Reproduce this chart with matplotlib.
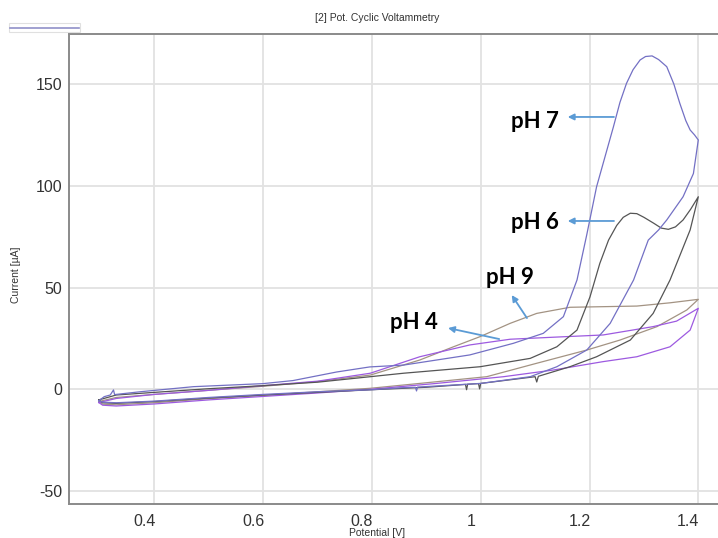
import numpy as np
import matplotlib
matplotlib.use("Agg")
import matplotlib.pyplot as plt
from matplotlib.transforms import ScaledTranslation
from matplotlib.patches import Rectangle
from matplotlib.lines import Line2D

plt.rcParams["axes.unicode_minus"] = False

# pH 7 (forward scan then reverse)
ph7_v = [0.298, 0.308, 0.319, 0.325, 0.327, 0.330, 0.374, 0.472, 0.600, 0.655, 0.735, 0.796, 0.858,
         0.980, 1.060, 1.115, 1.152, 1.177, 1.195, 1.213, 1.244, 1.256, 1.268, 1.280, 1.293, 1.303,
         1.315, 1.327, 1.342, 1.355, 1.366, 1.377, 1.385, 1.393, 1.400,
         1.391, 1.372, 1.342, 1.327, 1.308, 1.281, 1.238, 1.195, 1.140, 1.091, 1.000, 0.884, 0.882,
         0.880, 0.857, 0.800, 0.700, 0.600, 0.500, 0.400, 0.330, 0.305, 0.298]
ph7_i = [-5.6, -3.6, -2.8, -0.3, -2.6, -2.5, -1.2, 1.3, 2.8, 4.3, 8.5, 11.0, 11.9,
         16.9, 22.6, 27.5, 35.7, 53.7, 76.0, 99.5, 129.0, 141.0, 150.3, 157.0, 161.8, 163.5,
         163.8, 162.0, 158.5, 150.0, 140.5, 132.0, 127.4, 125.0, 122.5,
         106.0, 94.6, 83.2, 78.3, 73.3, 53.7, 32.4, 19.3, 11.1, 6.2, 2.9, 1.1, -0.8,
         1.0, 0.8, -0.2, -1.2, -2.5, -4.0, -5.8, -6.6, -6.3, -5.6]

# pH 6
ph6_v = [0.298, 0.330, 0.400, 0.500, 0.600, 0.700, 0.797, 0.858, 0.999, 1.091, 1.140, 1.177,
         1.201, 1.219, 1.235, 1.250, 1.262, 1.275, 1.287, 1.300, 1.318, 1.332, 1.345, 1.358,
         1.372, 1.386, 1.400,
         1.385, 1.348, 1.317, 1.275, 1.213, 1.164, 1.106, 1.103, 1.100, 1.000, 0.998, 0.996,
         0.976, 0.974, 0.972, 0.900, 0.800, 0.700, 0.600, 0.500, 0.400, 0.330, 0.305, 0.298]
ph6_i = [-5.2, -2.8, -1.5, 0.3, 1.8, 3.5, 6.2, 7.9, 11.1, 15.2, 20.9, 29.1,
         45.5, 61.9, 73.3, 80.5, 84.5, 86.5, 86.3, 84.5, 81.6, 79.2, 78.6, 79.8,
         83.2, 88.5, 94.6,
         78.3, 53.7, 37.3, 24.2, 16.0, 11.1, 6.4, 3.6, 6.2, 2.9, 0.2, 2.8,
         2.5, -0.2, 2.4, 1.0, -0.2, -1.5, -2.8, -4.3, -6.0, -6.9, -6.6, -5.2]

# pH 9
ph9_v = [0.298, 0.330, 0.400, 0.500, 0.600, 0.700, 0.797, 0.888, 0.950, 0.999, 1.054, 1.103,
         1.164, 1.225, 1.287, 1.348, 1.400,
         1.379, 1.324, 1.256, 1.195, 1.103, 1.011, 0.888, 0.797, 0.700, 0.600, 0.500, 0.400,
         0.330, 0.305, 0.298]
ph9_i = [-6.0, -4.0, -2.5, -0.5, 1.5, 3.8, 7.0, 14.4, 20.9, 25.9, 32.4, 37.3,
         40.3, 40.6, 40.9, 42.5, 44.2,
         39.0, 30.8, 24.2, 19.3, 12.8, 6.2, 2.9, 0.5, -1.2, -3.0, -4.6, -6.6,
         -7.6, -7.3, -6.0]

# pH 4
ph4_v = [0.298, 0.330, 0.400, 0.500, 0.600, 0.700, 0.797, 0.888, 0.980, 1.054, 1.134, 1.225,
         1.317, 1.360, 1.400,
         1.385, 1.348, 1.287, 1.225, 1.134, 1.042, 0.919, 0.797, 0.700, 0.600, 0.500, 0.400,
         0.330, 0.305, 0.298]
ph4_i = [-6.5, -4.5, -2.5, -0.5, 1.8, 4.0, 7.9, 16.0, 21.8, 24.6, 25.6, 26.7,
         30.8, 33.5, 39.8,
         29.1, 20.9, 16.0, 13.6, 9.5, 6.2, 2.9, 0.0, -1.8, -3.5, -5.2, -7.2,
         -8.2, -7.8, -6.5]

x_ticks = [0.4, 0.6, 0.8, 1.0, 1.2, 1.4]
x_tick_labels = ["0.4", "0.6", "0.8", "1", "1.2", "1.4"]
y_ticks = [-50, 0, 50, 100, 150]

# annotation labels: text, text pos, arrow tail, arrow head
labels = ["pH 7", "pH 6", "pH 9", "pH 4"]
label_pos = [(1.143, 131.5), (1.143, 82.0), (1.053, 54.7), (0.877, 33.0)]
arrow_tail = [(1.245, 133.8), (1.245, 82.7), (1.085, 35.0), (1.034, 24.7)]
arrow_head = [(1.160, 133.8), (1.160, 82.7), (1.057, 46.3), (0.940, 30.1)]
label_ha = ["right", "right", "center", "center"]

fig = plt.figure(figsize=(7.18, 5.38), dpi=100)
ax = fig.add_axes([0.0961, 0.0626, 0.9039, 0.8736])

ax.plot(ph9_v, ph9_i, color="#a39383", lw=0.9)
ax.plot(ph4_v, ph4_i, color="#9d5ae0", lw=0.9)
ax.plot(ph6_v, ph6_i, color="#555555", lw=0.9)
ax.plot(ph7_v, ph7_i, color="#7370c4", lw=0.9)

ax.set_xlim(0.2432, 1.4362)
ax.set_ylim(-56.5, 174.4)
ax.set_xticks(x_ticks)
ax.set_xticklabels(x_tick_labels)
ax.set_yticks(y_ticks)
ax.grid(True, color="#e2e2e2", lw=1.3)
ax.set_axisbelow(True)
ax.tick_params(length=0, labelsize=11.5, labelcolor="#333333")
ax.tick_params(axis="y", pad=5)
ax.tick_params(axis="x", pad=7)
for lab in ax.get_xticklabels():
    lab.set_fontfamily("Liberation Sans")
    lab.set_transform(lab.get_transform() + ScaledTranslation(-0.1, 0, fig.dpi_scale_trans))
for lab in ax.get_yticklabels():
    lab.set_fontfamily("Liberation Sans")

for s in ["left", "bottom", "top"]:
    ax.spines[s].set_color("#8a8a8a")
    ax.spines[s].set_linewidth(1.4)
ax.spines["right"].set_visible(False)

for txt, pos, tail, head, ha in zip(labels, label_pos, arrow_tail, arrow_head, label_ha):
    ax.text(pos[0], pos[1], txt, ha=ha, va="center", fontsize=16,
            fontweight="bold", family="Lato", color="black")
    ax.annotate("", xy=head, xytext=tail,
                arrowprops=dict(arrowstyle="-|>", color="#5b9bd5", lw=1.3,
                                mutation_scale=9, shrinkA=0, shrinkB=0))

fig.text(377 / 718, 1 - 18 / 538, "[2] Pot. Cyclic Voltammetry", ha="center", va="center",
         fontsize=7.5, family="Liberation Sans", color="#333333")
fig.text(377 / 718, 1 - 532.5 / 538, "Potential [V]", ha="center", va="center",
         fontsize=7.5, family="Liberation Sans", color="#333333")
fig.text(16 / 718, 1 - 275 / 538, "Current [µA]", ha="center", va="center", rotation=90,
         fontsize=7.5, family="Liberation Sans", color="#333333")

# small legend box at top left
fig.add_artist(Rectangle((9 / 718, 1 - 32 / 538), 71 / 718, 9 / 538, transform=fig.transFigure,
                         facecolor="white", edgecolor="#e0e0e0", lw=0.8))
fig.add_artist(Line2D([10 / 718, 79 / 718], [1 - 27.7 / 538, 1 - 27.7 / 538],
                      transform=fig.transFigure, color="#9090c8", lw=1.2))

fig.savefig("out.png", dpi=100)
